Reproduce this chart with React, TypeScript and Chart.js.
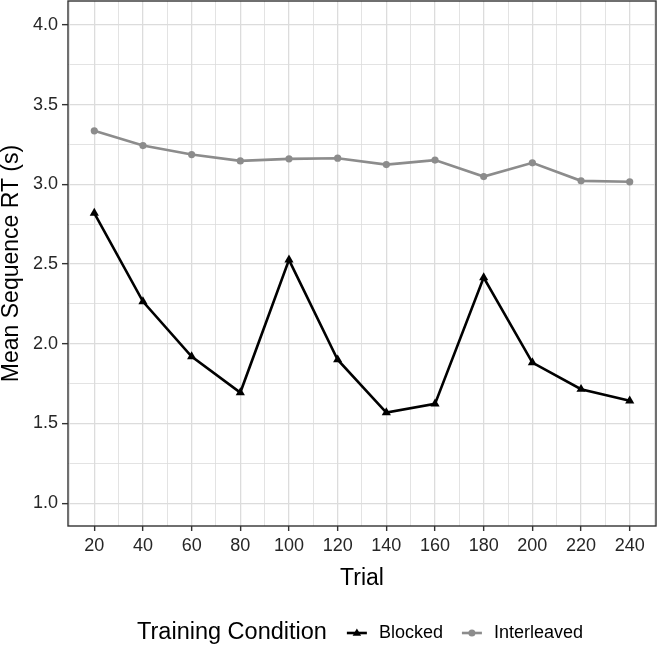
import React, { useEffect, useRef } from 'react';
import { Chart, registerables } from 'chart.js';

Chart.register(...registerables);

const trials = [20, 40, 60, 80, 100, 120, 140, 160, 180, 200, 220, 240];
const blocked = [2.82, 2.265, 1.92, 1.694, 2.526, 1.9, 1.568, 1.623, 2.415, 1.882, 1.715, 1.642];
const interleaved = [3.336, 3.243, 3.187, 3.147, 3.16, 3.164, 3.124, 3.152, 3.049, 3.135, 3.022, 3.016];
const seriesLabels = ['Blocked', 'Interleaved'];
const legendTitle = 'Training Condition';
const xTitle = 'Trial';
const yTitle = 'Mean Sequence RT (s)';
const xMajorTicks = [20, 40, 60, 80, 100, 120, 140, 160, 180, 200, 220, 240];
const xMinorTicks = [10, 30, 50, 70, 90, 110, 130, 150, 170, 190, 210, 230, 250];
const yMajorTicks = [1.0, 1.5, 2.0, 2.5, 3.0, 3.5, 4.0];
const yMinorTicks = [1.25, 1.75, 2.25, 2.75, 3.25, 3.75];

const FONT = '"Liberation Sans", Arial, Helvetica, sans-serif';
const BLACK = '#000000';
const GREY = '#8c8c8c';
const GRID = '#dcdcdc';
const DARK = '#333333';
const TICKTXT = '#262626';

const isIn = (arr: number[], v: number) => arr.some((a) => Math.abs(a - v) < 1e-6);

const borderPlugin = {
  id: 'panelBorder',
  afterDraw(chart: any) {
    const { ctx, chartArea } = chart;
    ctx.save();
    ctx.strokeStyle = DARK;
    ctx.lineWidth = 1.4;
    ctx.strokeRect(chartArea.left, chartArea.top, chartArea.right - chartArea.left, chartArea.bottom - chartArea.top);
    ctx.restore();
  },
};

const legendPlugin = {
  id: 'bottomLegend',
  afterDraw(chart: any) {
    const { ctx, chartArea } = chart;
    const y = 633;
    ctx.save();
    ctx.textBaseline = 'middle';
    ctx.textAlign = 'left';
    ctx.font = `23.5px ${FONT}`;
    const titleW = ctx.measureText(legendTitle).width;
    ctx.font = `18px ${FONT}`;
    const items = chart.data.datasets.map((ds: any) => ({
      ds,
      w: ctx.measureText(ds.label).width,
    }));
    const keyW = 20;
    const gapTitle = 20;
    const gapKeyText = 12;
    const gapItems = 19;
    let total = titleW + gapTitle;
    items.forEach((it: any, i: number) => {
      total += keyW + gapKeyText + it.w + (i < items.length - 1 ? gapItems : 0);
    });
    let x = (chartArea.left + chartArea.right) / 2 - total / 2 - 2;
    ctx.fillStyle = '#000';
    ctx.font = `23.5px ${FONT}`;
    ctx.fillText(legendTitle, x, y);
    x += titleW + gapTitle;
    ctx.font = `18px ${FONT}`;
    items.forEach((it: any, i: number) => {
      const ds = it.ds;
      ctx.strokeStyle = ds.borderColor;
      ctx.lineWidth = ds.borderWidth;
      ctx.beginPath();
      ctx.moveTo(x, y);
      ctx.lineTo(x + keyW, y);
      ctx.stroke();
      ctx.fillStyle = ds.pointBackgroundColor;
      ctx.beginPath();
      const cx = x + keyW / 2;
      if (ds.pointStyle === 'triangle') {
        const r = 4.5;
        ctx.moveTo(cx, y - r);
        ctx.lineTo(cx + r * 0.95, y + r * 0.6);
        ctx.lineTo(cx - r * 0.95, y + r * 0.6);
        ctx.closePath();
      } else {
        ctx.arc(cx, y, 3.5, 0, Math.PI * 2);
      }
      ctx.fill();
      x += keyW + gapKeyText;
      ctx.fillStyle = '#000';
      ctx.fillText(ds.label, x, y);
      x += it.w + (i < items.length - 1 ? gapItems : 0);
    });
    ctx.restore();
  },
};

export default function App() {
  const ref = useRef<HTMLCanvasElement | null>(null);

  useEffect(() => {
    if (!ref.current) return;
    const chart = new Chart(ref.current, {
      type: 'line',
      data: {
        datasets: [
          {
            label: seriesLabels[0],
            data: trials.map((t, i) => ({ x: t, y: blocked[i] })),
            borderColor: BLACK,
            backgroundColor: BLACK,
            pointBackgroundColor: BLACK,
            pointBorderColor: BLACK,
            borderWidth: 2.6,
            pointStyle: 'triangle',
            pointRadius: 5.3,
            pointBorderWidth: 0,
            tension: 0,
          },
          {
            label: seriesLabels[1],
            data: trials.map((t, i) => ({ x: t, y: interleaved[i] })),
            borderColor: GREY,
            backgroundColor: GREY,
            pointBackgroundColor: GREY,
            pointBorderColor: GREY,
            borderWidth: 2.6,
            pointStyle: 'circle',
            pointRadius: 3.6,
            pointBorderWidth: 0,
            tension: 0,
          },
        ] as any,
      },
      options: {
        animation: false,
        responsive: false,
        maintainAspectRatio: false,
        layout: { autoPadding: false, padding: { left: 0, top: 1, right: 2, bottom: 58 } },
        plugins: {
          legend: { display: false },
          tooltip: { enabled: false },
        },
        scales: {
          x: {
            type: 'linear',
            min: 9.2,
            max: 250.8,
            afterBuildTicks: (scale: any) => {
              scale.ticks = [...xMajorTicks, ...xMinorTicks].sort((a, b) => a - b).map((v) => ({ value: v }));
            },
            afterFit: (scale: any) => {
              scale.height = 64;
              scale.paddingLeft = 0;
              scale.paddingRight = 0;
            },
            ticks: {
              autoSkip: false,
              maxRotation: 0,
              minRotation: 0,
              padding: 4,
              color: TICKTXT,
              font: { family: FONT, size: 18 },
              callback: (v: any) => (isIn(xMajorTicks, Number(v)) ? String(v) : ''),
            },
            grid: {
              color: (c: any) => GRID,
              lineWidth: (c: any) => (c.tick && isIn(xMajorTicks, c.tick.value) ? 1.3 : 0.8),
              drawTicks: true,
              tickLength: 5,
              tickWidth: 1.4,
              tickColor: (c: any) => (c.tick && isIn(xMajorTicks, c.tick.value) ? DARK : 'rgba(0,0,0,0)'),
            },
            border: { display: false },
            title: {
              display: true,
              text: xTitle,
              color: '#000',
              font: { family: FONT, size: 23, lineHeight: 1 },
              padding: 0,
            },
          },
          y: {
            type: 'linear',
            min: 0.857,
            max: 4.15,
            afterBuildTicks: (scale: any) => {
              scale.ticks = [...yMajorTicks, ...yMinorTicks].sort((a, b) => a - b).map((v) => ({ value: v }));
            },
            afterFit: (scale: any) => {
              scale.width = 68;
              scale.paddingTop = 0;
              scale.paddingBottom = 0;
            },
            ticks: {
              autoSkip: false,
              padding: 4,
              color: TICKTXT,
              font: { family: FONT, size: 18 },
              callback: (v: any) => (isIn(yMajorTicks, Number(v)) ? Number(v).toFixed(1) : ''),
            },
            grid: {
              color: (c: any) => GRID,
              lineWidth: (c: any) => (c.tick && isIn(yMajorTicks, c.tick.value) ? 1.3 : 0.8),
              drawTicks: true,
              tickLength: 6,
              tickWidth: 1.4,
              tickColor: (c: any) => (c.tick && isIn(yMajorTicks, c.tick.value) ? DARK : 'rgba(0,0,0,0)'),
            },
            border: { display: false },
            title: {
              display: true,
              text: yTitle,
              color: '#000',
              font: { family: FONT, size: 23, lineHeight: 1 },
              padding: 0,
            },
          },
        },
      } as any,
      plugins: [borderPlugin, legendPlugin],
    });
    return () => chart.destroy();
  }, []);

  return (
    <div style={{ position: 'absolute', left: 0, top: 0, width: 658, height: 648, background: '#fff' }}>
      <canvas ref={ref} width={658} height={648} style={{ width: 658, height: 648, display: 'block' }} />
    </div>
  );
}
